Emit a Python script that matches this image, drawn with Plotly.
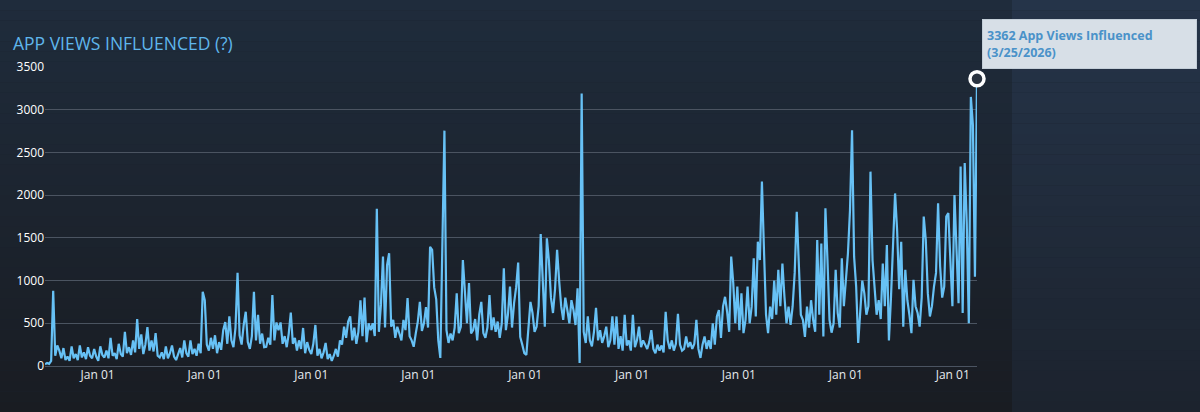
import plotly.graph_objects as go
import pandas as pd

# ---- data (weekly samples, ending 3/25/2026) ----
values = [
    20, 35, 25, 60, 880, 120, 240, 180, 90, 210,
    70, 110, 60, 230, 90, 140, 70, 240, 100, 160,
    80, 220, 120, 90, 200, 110, 60, 230, 130, 100,
    180, 90, 330, 120, 150, 80, 260, 140, 110, 400,
    150, 220, 130, 300, 160, 550, 200, 370, 140, 250,
    455, 180, 300, 170, 385, 120, 100, 160, 80, 230,
    90, 150, 240, 110, 70, 130, 210, 100, 300, 150,
    110, 300, 140, 200, 120, 260, 150, 870, 770, 250,
    180, 330, 200, 360, 150, 280, 190, 420, 515, 260,
    580, 300, 220, 450, 1090, 360, 250, 480, 635, 280,
    200, 350, 870, 300, 600, 260, 380, 220, 225, 330,
    250, 830, 300, 510, 420, 510, 260, 350, 220, 380,
    625, 260, 330, 180, 300, 200, 445, 150, 280, 190,
    140, 260, 480, 120, 200, 90, 160, 270, 80, 140,
    60, 120, 200, 110, 300, 250, 460, 330, 520, 580,
    300, 450, 260, 400, 770, 350, 800, 280, 500, 420,
    500, 350, 1840, 400, 715, 1280, 450, 1180, 1320, 460,
    540, 330, 460, 380, 300, 540, 420, 795, 350, 300,
    225, 380, 520, 750, 410, 500, 690, 450, 1395, 1360,
    920, 780, 300, 95, 1570, 2755, 420, 270, 380, 300,
    450, 850, 385, 460, 1240, 850, 500, 970, 380, 420,
    550, 300, 600, 750, 385, 330, 450, 830, 420, 570,
    400, 520, 330, 500, 1145, 420, 600, 930, 450, 735,
    920, 1210, 340, 250, 150, 130, 420, 750, 620, 400,
    460, 700, 1545, 920, 460, 1495, 1240, 800, 620, 900,
    1360, 1000, 700, 540, 800, 655, 500, 770, 655, 480,
    910, 35, 3190, 400, 270, 580, 300, 230, 400, 680,
    300, 420, 270, 350, 460, 220, 300, 580, 250, 580,
    200, 350, 180, 600, 240, 300, 180, 600, 220, 300,
    460, 220, 300, 250, 200, 280, 420, 200, 150, 250,
    180, 240, 160, 635, 300, 200, 300, 180, 260, 610,
    250, 180, 200, 345, 220, 280, 200, 260, 540, 200,
    95, 250, 345, 200, 300, 200, 500, 250, 580, 655,
    330, 695, 810, 635, 400, 1280, 970, 500, 930, 420,
    850, 385, 540, 930, 500, 695, 1260, 580, 1455, 1240,
    2160, 1360, 600, 385, 695, 550, 1000, 600, 1125, 700,
    1200, 810, 500, 695, 480, 700, 1090, 1805, 1260, 600,
    540, 340, 695, 450, 770, 540, 400, 1475, 600, 1435,
    345, 1845, 1240, 540, 390, 500, 1125, 620, 450, 1260,
    700, 970, 1320, 1825, 2760, 1280, 930, 270, 700, 1000,
    850, 600, 700, 2275, 1240, 850, 600, 770, 550, 1200,
    700, 1415, 300, 800, 1360, 2020, 1590, 900, 1455, 460,
    1125, 770, 600, 385, 1010, 700, 620, 460, 800, 1750,
    1475, 850, 580, 700, 930, 1090, 1905, 1165, 800, 930,
    1750, 1790, 1240, 700, 2000, 1320, 735, 2335, 620, 2375,
    1670, 500, 3150, 2820, 1045, 3362,
]
last_date = "2026-03-25"
dates = pd.date_range(end=last_date, periods=len(values), freq="7D")

y_ticks = [0, 500, 1000, 1500, 2000, 2500, 3000, 3500]
title_text = "APP VIEWS INFLUENCED (?)"
tooltip_text = f"<b>{values[-1]} App Views Influenced<br>(3/25/2026)</b>"

W, H = 1200, 412
ML, MR, MT, MB = 45, 223, 67, 46
PW, PH = W - ML - MR, H - MT - MB

def px_x(p):
    return (p - ML) / PW

def px_y(p):
    return (H - MB - p) / PH

def lerp(c1, c2, t):
    a = [int(c1[i:i + 2], 16) for i in (1, 3, 5)]
    b = [int(c2[i:i + 2], 16) for i in (1, 3, 5)]
    return "#" + "".join(f"{round(a[k] + (b[k] - a[k]) * t):02x}" for k in range(3))

shapes = []
NB = 40
split = 1012
for k in range(NB):
    y0p = H * k / NB
    y1p = H * (k + 1) / NB
    t = (k + 0.5) / NB
    shapes.append(dict(type="rect", xref="paper", yref="paper", layer="below",
                       x0=px_x(0), x1=px_x(split), y0=px_y(y1p), y1=px_y(y0p),
                       fillcolor=lerp("#1f2c3c", "#191c22", t), line=dict(width=0)))
    shapes.append(dict(type="rect", xref="paper", yref="paper", layer="below",
                       x0=px_x(split), x1=px_x(W), y0=px_y(y1p), y1=px_y(y0p),
                       fillcolor=lerp("#253449", "#1c232e", t), line=dict(width=0)))

fig = go.Figure()
fig.add_trace(go.Scatter(
    x=dates, y=values, mode="lines",
    line=dict(color="#67c1f5", width=2.2),
    hoverinfo="skip", showlegend=False,
))
fig.add_trace(go.Scatter(
    x=[dates[-1]], y=[values[-1]], mode="markers",
    marker=dict(size=14, color="#2a3340", line=dict(color="#ffffff", width=3.5)),
    hoverinfo="skip", showlegend=False, cliponaxis=False,
))

fig.update_layout(
    width=W, height=H,
    margin=dict(l=ML, r=MR, t=MT, b=MB),
    paper_bgcolor="#1c2430",
    plot_bgcolor="rgba(0,0,0,0)",
    shapes=shapes,
    font=dict(family="Open Sans, Arial, sans-serif", color="#ffffff", size=12),
    xaxis=dict(
        type="date",
        range=[dates[0], dates[-1]],
        showgrid=False, zeroline=False, showline=False,
        tick0="2018-01-01", dtick="M12", tickformat="%b %d",
        ticks="", tickfont=dict(size=12, color="#e6ebef"),
        fixedrange=True,
    ),
    yaxis=dict(
        range=[0, 3500], tickvals=y_ticks,
        showgrid=True, gridcolor="#4b5461", gridwidth=1,
        zeroline=True, zerolinecolor="#4b5461", zerolinewidth=1,
        showline=False, ticks="",
        tickfont=dict(size=12, color="#ffffff"),
        fixedrange=True,
    ),
    annotations=[
        dict(text=title_text, xref="paper", yref="paper",
             x=px_x(11), y=px_y(29), xanchor="left", yanchor="top",
             showarrow=False,
             font=dict(family="Open Sans, Arial, sans-serif", size=17.5, color="#5fb6ec")),
        dict(text=tooltip_text, xref="paper", yref="paper",
             x=px_x(982), y=px_y(19), xanchor="left", yanchor="top",
             showarrow=False, align="left", valign="middle",
             width=205, height=40,
             bgcolor="#d7dfe7", bordercolor="#c3ced8", borderwidth=1, borderpad=4,
             font=dict(family="Open Sans, Arial, sans-serif", size=12.5, color="#4a92c9")),
    ],
)

fig.write_html("out.html")
